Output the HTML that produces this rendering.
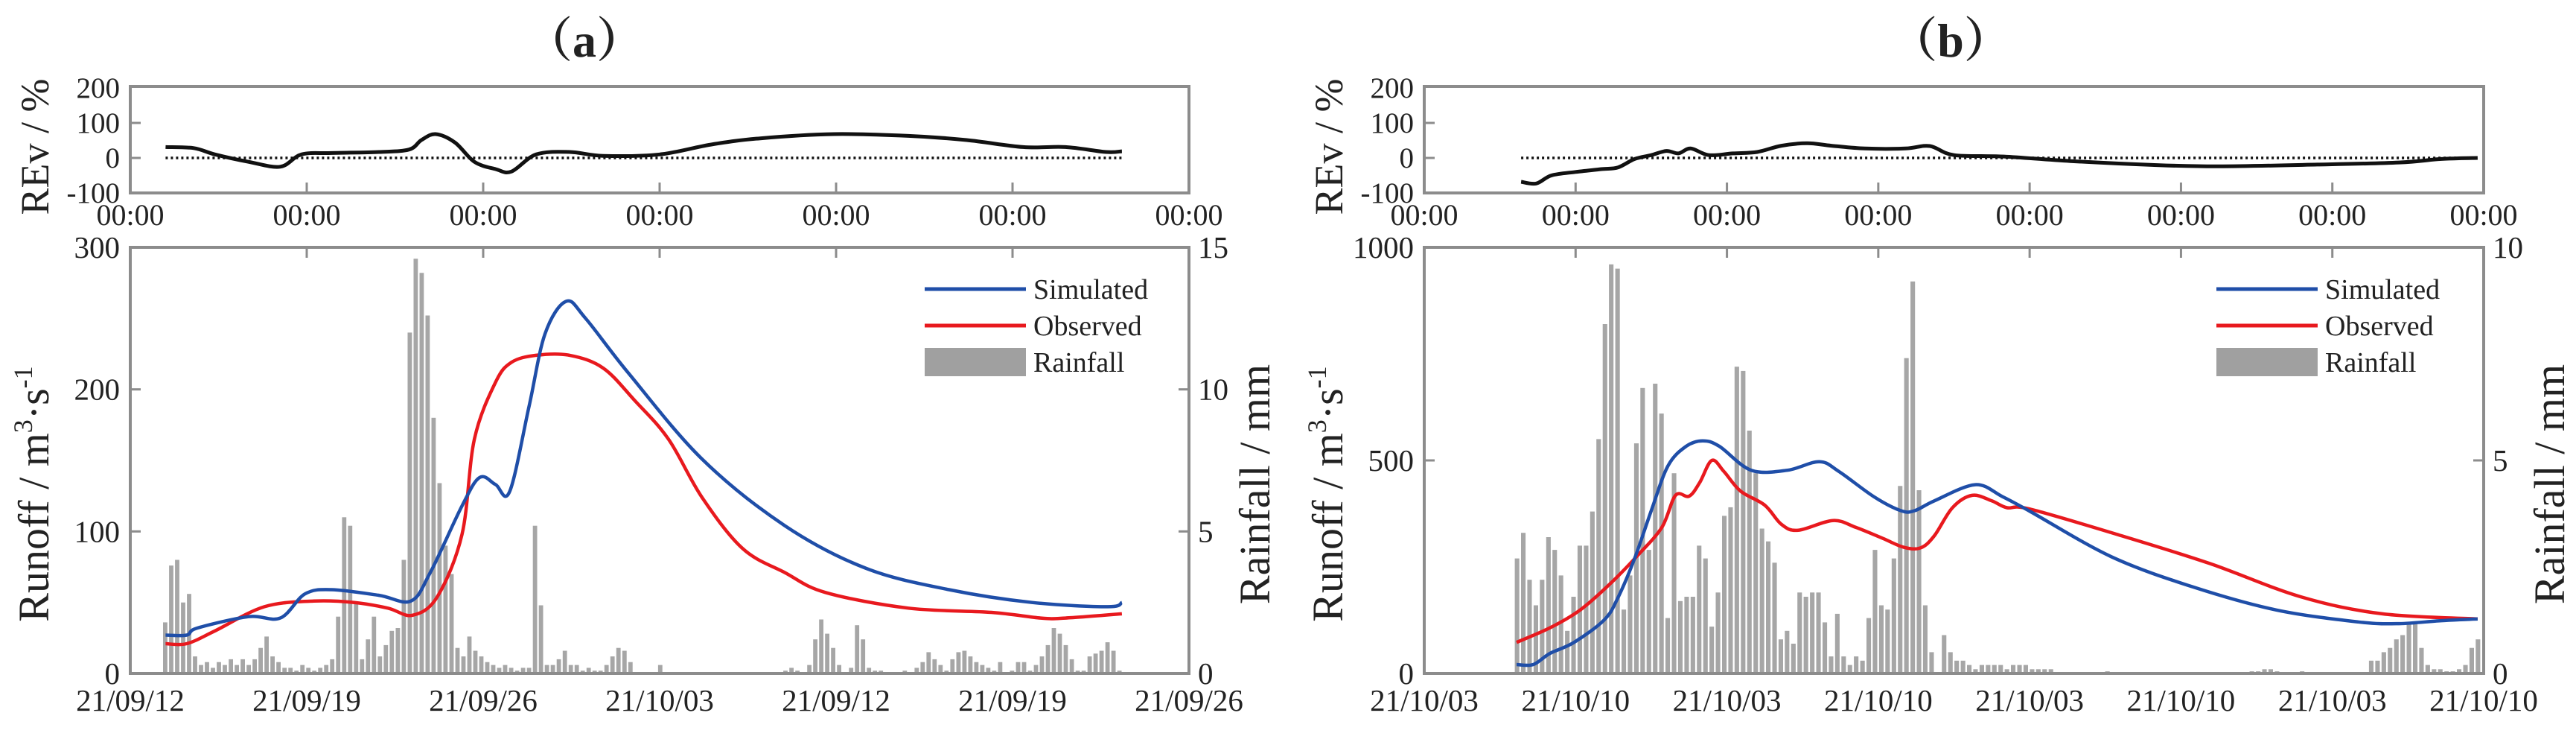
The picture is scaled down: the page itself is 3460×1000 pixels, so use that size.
<!DOCTYPE html>
<html><head><meta charset="utf-8"><style>
html,body{margin:0;padding:0;background:#fff}
svg{display:block}
text{font-family:"Liberation Serif","Noto Serif CJK SC",serif;fill:#222}
</style></head><body>
<svg id="fig" width="3460" height="1000" xmlns="http://www.w3.org/2000/svg"></svg>
<script>
// ---------- Panel (a) data ----------
const aXTickLabelsTop = ["00:00","00:00","00:00","00:00","00:00","00:00","00:00"];
const aXTickLabels = ["21/09/12","21/09/19","21/09/26","21/10/03","21/09/12","21/09/19","21/09/26"];
const aRunoffTicks = [0,100,200,300];
const aRainTicks = [0,5,10,15];
const aRevTicks = [-100,0,100,200];
const aSimT = [0.20,0.32,0.38,0.67,0.85,0.99,1.14,1.41,1.59,1.70,1.88,1.98,2.07,2.15,2.26,2.35,2.47,2.58,2.82,3.24,3.71,4.17,4.64,5.11,5.54,5.62];
const aSimV = [27,27,32,40,39,56,59,55,51,71,118,138,133,128,188,239,262,250,212,151,104,74,59,50,47,50];
const aObsT = [0.20,0.32,0.48,0.76,1.04,1.27,1.46,1.60,1.74,1.88,1.95,2.07,2.16,2.30,2.49,2.68,2.86,3.05,3.24,3.47,3.71,3.94,4.41,4.88,5.16,5.30,5.62];
const aObsV = [21,21,30,47,51,50,46,41,54,98,165,205,219,224,224,215,192,165,124,88,71,57,46,43,39,39,42];
const aRevT = [0.20,0.36,0.48,0.67,0.85,0.97,1.14,1.41,1.58,1.65,1.73,1.84,1.95,2.07,2.16,2.30,2.49,2.68,3.00,3.29,3.57,3.99,4.41,4.74,5.06,5.30,5.53,5.62];
const aRevV = [31,28,10,-11,-25,10,14,17,24,51,68,44,-11,-32,-39,10,17,6,10,38,56,68,63,51,31,31,17,19];
const aRainStart = 0.198, aRainStep = 0.0338;
const aRain = [1.8,3.8,4.0,2.5,2.8,0.6,0.3,0.4,0.2,0.4,0.3,0.5,0.3,0.5,0.3,0.5,0.9,1.3,0.6,0.4,
0.2,0.2,0.1,0.3,0.2,0.1,0.2,0.3,0.5,2.0,5.5,5.2,2.5,0.5,1.2,2.0,0.6,1.0,1.5,1.6,
4.0,12.0,14.6,14.1,12.6,9.0,6.7,4.5,3.5,0.9,0.6,1.3,0.8,0.6,0.4,0.3,0.2,0.3,0.2,0.1,
0.2,0.2,5.2,2.4,0.3,0.3,0.5,0.8,0.3,0.3,0.1,0.2,0.1,0.1,0.3,0.6,0.9,0.8,0.4,0.05,
0.05,0.05,0.05,0.3,0.05,0,0,0.05,0,0,0,0,0.05,0,0,0,0.05,0,0,0,
0,0,0,0.05,0.1,0.2,0.1,0,0.3,1.2,1.9,1.4,0.9,0.3,0.05,0.2,1.7,1.2,0.2,0.1,
0.1,0.05,0.05,0.05,0.1,0.05,0.2,0.4,0.75,0.5,0.3,0.1,0.5,0.75,0.8,0.6,0.4,0.3,0.2,0.1,
0.4,0.05,0.1,0.4,0.4,0.1,0.3,0.6,1.0,1.6,1.4,1.0,0.5,0.1,0.1,0.6,0.7,0.8,1.1,0.8,0.1];

// ---------- Panel (b) data ----------
const bXTickLabelsTop = ["00:00","00:00","00:00","00:00","00:00","00:00","00:00","00:00"];
const bXTickLabels = ["21/10/03","21/10/10","21/10/03","21/10/10","21/10/03","21/10/10","21/10/03","21/10/10"];
const bRunoffTicks = [0,500,1000];
const bRainTicks = [0,5,10];
const bRevTicks = [-100,0,100,200];
const bSimT = [0.61,0.72,0.83,0.99,1.19,1.28,1.39,1.50,1.61,1.73,1.84,1.95,2.16,2.40,2.61,2.74,2.97,3.15,3.24,3.37,3.64,3.82,4.00,4.54,5.08,5.63,6.17,6.44,6.72,6.96];
const bSimV = [21,21,47,73,126,178,270,382,487,533,546,533,477,477,497,474,415,382,382,405,443,415,381,274,203,149,121,117,124,128];
const bObsT = [0.61,0.83,1.03,1.23,1.41,1.57,1.66,1.75,1.82,1.90,1.98,2.09,2.25,2.36,2.47,2.70,2.85,3.03,3.17,3.28,3.37,3.49,3.62,3.75,3.85,4.00,4.59,5.19,5.79,6.33,6.96];
const bObsV = [73,107,149,211,277,343,418,416,448,500,474,428,395,350,336,359,343,317,296,295,323,389,418,405,389,386,325,258,180,140,128];
const bRevT = [0.64,0.74,0.84,1.00,1.17,1.28,1.39,1.50,1.60,1.68,1.76,1.88,2.04,2.20,2.36,2.53,2.69,2.91,3.18,3.34,3.50,3.83,4.27,4.81,5.25,5.90,6.44,6.72,6.96];
const bRevV = [-68,-73,-50,-40,-32,-27,-3,8,20,13,27,8,13,17,35,42,35,27,27,34,8,4,-9,-20,-24,-19,-13,-3,0];
const bRainStart = 0.613, bRainStep = 0.0415;
const bRain = [2.7,3.3,2.2,1.6,2.2,3.2,2.9,2.3,1.0,1.8,3.0,3.0,3.8,5.5,8.2,9.6,9.5,1.5,2.3,5.4,
6.7,2.9,6.8,6.1,1.3,4.7,1.7,1.8,1.8,3.0,2.7,1.1,1.9,3.7,3.9,7.2,7.1,5.7,4.7,3.4,
3.1,2.6,0.8,1.0,0.7,1.9,1.8,1.9,1.9,1.2,0.4,1.4,0.4,0.2,0.4,0.3,1.3,2.9,1.6,1.5,
2.7,4.4,7.4,9.2,4.3,1.6,0.5,0.0,0.9,0.5,0.3,0.3,0.2,0.1,0.2,0.2,0.2,0.2,0.1,0.2,
0.2,0.2,0.1,0.1,0.1,0.1,0,0,0,0,0,0,0,0,0.05,0,0,0,0,0,
0,0,0,0,0,0,0,0,0,0,0,0,0,0,0,0,0,0.05,0.05,0.1,0.1,0.05,0,0,0,0.05,0,0,0,0,0,0,
0,0,0,0,0.3,0.3,0.5,0.6,0.8,0.9,1.2,1.2,0.6,0.2,0.1,0.1,0.05,0.05,0.1,0.2,0.6,0.8];

const NS = "http://www.w3.org/2000/svg";
const svg = document.getElementById('fig');
function mk(tag, attrs, parent){
  const e = document.createElementNS(NS, tag);
  for (const k in attrs) e.setAttribute(k, attrs[k]);
  (parent||svg).appendChild(e); return e;
}
function txt(s, attrs, parent){ const t = mk('text', attrs, parent); t.textContent = s; return t; }
function lin(d0,d1,r0,r1){ return v => r0 + (v-d0)/(d1-d0)*(r1-r0); }
function smoothPath(ts, vs, sx, sy){
  const p = ts.map((t,i)=>[sx(t), sy(vs[i])]);
  let d = `M${p[0][0].toFixed(1)} ${p[0][1].toFixed(1)}`;
  for (let i=0;i<p.length-1;i++){
    const p0=p[Math.max(0,i-1)], p1=p[i], p2=p[i+1], p3=p[Math.min(p.length-1,i+2)];
    const c1=[p1[0]+(p2[0]-p0[0])/6, p1[1]+(p2[1]-p0[1])/6];
    const c2=[p2[0]-(p3[0]-p1[0])/6, p2[1]-(p3[1]-p1[1])/6];
    d += `C${c1[0].toFixed(1)} ${c1[1].toFixed(1)} ${c2[0].toFixed(1)} ${c2[1].toFixed(1)} ${p2[0].toFixed(1)} ${p2[1].toFixed(1)}`;
  }
  return d;
}

function panel(cfg){
  const g = mk('g', {});
  
  
  const L=cfg.left, R=cfg.right, nDiv=cfg.nDiv;
  const sx = lin(0, nDiv, L, R);
  const revTop=116, revBot=259, mTop=332, mBot=904;
  const syRev = lin(-100, 200, revBot, revTop+2);
  const syQ = lin(0, cfg.qMax, mBot, mTop);
  const syP = lin(0, cfg.pMax, mBot, mTop);
  const ti = txt(cfg.title, {x:cfg.titleX, y:76, 'font-size':64, 'font-weight':'bold', 'text-anchor':'middle'}, g);
  
  
  const bars = mk('g', {}, g);
  
  
  const bw = (sx(cfg.rainStep)-sx(0))*0.72;
  cfg.rain.forEach((v,i)=>{
    const t = cfg.rainStart + i*cfg.rainStep;
    const x = sx(t);
    const y = syP(v);
    const r = mk('rect', {x:(x-bw/2).toFixed(1), y:y.toFixed(1), width:bw.toFixed(1), height:Math.max(0,mBot-y).toFixed(1), fill:'#a6a6a6'}, bars);
    
    
  });
  const z = mk('path', {d:`M${sx(cfg.revT[0])} ${syRev(0)}L${sx(cfg.revT[cfg.revT.length-1])} ${syRev(0)}`, stroke:'#111', 'stroke-width':3.5, 'stroke-dasharray':'3 4', fill:'none'}, g);
  
  
  const rv = mk('path', {d:smoothPath(cfg.revT, cfg.revV, sx, syRev), stroke:'#111', 'stroke-width':5, fill:'none'}, g);
  
  
  const ob = mk('path', {d:smoothPath(cfg.obsT, cfg.obsV, sx, syQ), stroke:'#e8191e', 'stroke-width':4.5, fill:'none'}, g);
  
  
  const si = mk('path', {d:smoothPath(cfg.simT, cfg.simV, sx, syQ), stroke:'#1f4ea8', 'stroke-width':4.5, fill:'none'}, g);
  
  
  const f1 = mk('rect', {x:L, y:revTop, width:R-L, height:revBot-revTop, fill:'none', stroke:'#8c8c8c', 'stroke-width':4}, g);
  
  
  const f2 = mk('rect', {x:L, y:mTop, width:R-L, height:mBot-mTop, fill:'none', stroke:'#8c8c8c', 'stroke-width':4}, g);
  
  
  for (let k=0;k<=nDiv;k++){
    const x = sx(k);
    if (k>0 && k<nDiv){
      mk('line',{x1:x,y1:revBot,x2:x,y2:revBot-14,stroke:'#8c8c8c','stroke-width':3},g);
      mk('line',{x1:x,y1:mTop,x2:x,y2:mTop+14,stroke:'#8c8c8c','stroke-width':3},g);
    }
    const t1 = txt(cfg.topLabels[k], {x:x, y:302, 'font-size':40, 'text-anchor':'middle'}, g);
    
    
    const t2 = txt(cfg.xLabels[k], {x:x, y:954, 'font-size':41, 'text-anchor':'middle'}, g);
    
    
  }
  aRevTicks.forEach(v=>{
    const y = syRev(v);
    if (v>-100 && v<200) mk('line',{x1:L,y1:y,x2:L+14,y2:y,stroke:'#8c8c8c','stroke-width':3},g);
    const t = txt(String(v), {x:L-14, y:y+13, 'font-size':39, 'text-anchor':'end'}, g);
    
    
  });
  cfg.qTicks.forEach(v=>{
    const y = syQ(v);
    if (v>0 && v<cfg.qMax) mk('line',{x1:L,y1:y,x2:L+14,y2:y,stroke:'#8c8c8c','stroke-width':3},g);
    const t = txt(String(v), {x:L-14, y:y+14, 'font-size':41, 'text-anchor':'end'}, g);
    
    
  });
  cfg.pTicks.forEach(v=>{
    const y = syP(v);
    if (v>0 && v<cfg.pMax) mk('line',{x1:R,y1:y,x2:R-14,y2:y,stroke:'#8c8c8c','stroke-width':3},g);
    const t = txt(String(v), {x:R+12, y:y+14, 'font-size':41, 'text-anchor':'start'}, g);
    
    
  });
  const yt1 = txt('REv / %', {x:0, y:0, 'font-size':54, 'text-anchor':'middle', transform:`translate(${L-110},197) rotate(-90)`}, g);
  
  
  const yt2 = txt('', {x:0, y:0, 'font-size':58, 'text-anchor':'middle', transform:`translate(${L-110},663) rotate(-90)`}, g);
  yt2.innerHTML = 'Runoff / m<tspan font-size="36" dy="-22">3</tspan><tspan dy="22">·s</tspan><tspan font-size="36" dy="-22">-1</tspan>';
  
  
  const yt3 = txt('Rainfall / mm', {x:0, y:0, 'font-size':58, 'text-anchor':'middle', transform:`translate(${R+108},650) rotate(-90)`}, g);
  
  
  const lg = mk('g', {}, g);
  
  
  const lx = cfg.legendX;
  const items = [['Simulated','#1f4ea8',388],['Observed','#e8191e',437],['Rainfall','#a0a0a0',486]];
  items.forEach(([name,col,y],i)=>{
    const e = mk('g', {}, lg);
    
    
    if (i<2) mk('line',{x1:lx,y1:y,x2:lx+136,y2:y,stroke:col,'stroke-width':5},e);
    else mk('rect',{x:lx,y:467,width:136,height:38,fill:col},e);
    txt(name,{x:lx+146,y:y+13,'font-size':38},e);
  });
}

panel({name:'panel-a', title:'（a）', titleX:785, left:175, right:1597, nDiv:6,
  qMax:300, pMax:15, qTicks:aRunoffTicks, pTicks:aRainTicks,
  topLabels:aXTickLabelsTop, xLabels:aXTickLabels,
  simT:aSimT, simV:aSimV, obsT:aObsT, obsV:aObsV, revT:aRevT, revV:aRevV,
  rain:aRain, rainStart:aRainStart, rainStep:aRainStep, legendX:1242});
panel({name:'panel-b', title:'（b）', titleX:2620, left:1913, right:3336, nDiv:7,
  qMax:1000, pMax:10, qTicks:bRunoffTicks, pTicks:bRainTicks,
  topLabels:bXTickLabelsTop, xLabels:bXTickLabels,
  simT:bSimT, simV:bSimV, obsT:bObsT, obsV:bObsV, revT:bRevT, revV:bRevV,
  rain:bRain, rainStart:bRainStart, rainStep:bRainStep, legendX:2977});
</script>
</body></html>
